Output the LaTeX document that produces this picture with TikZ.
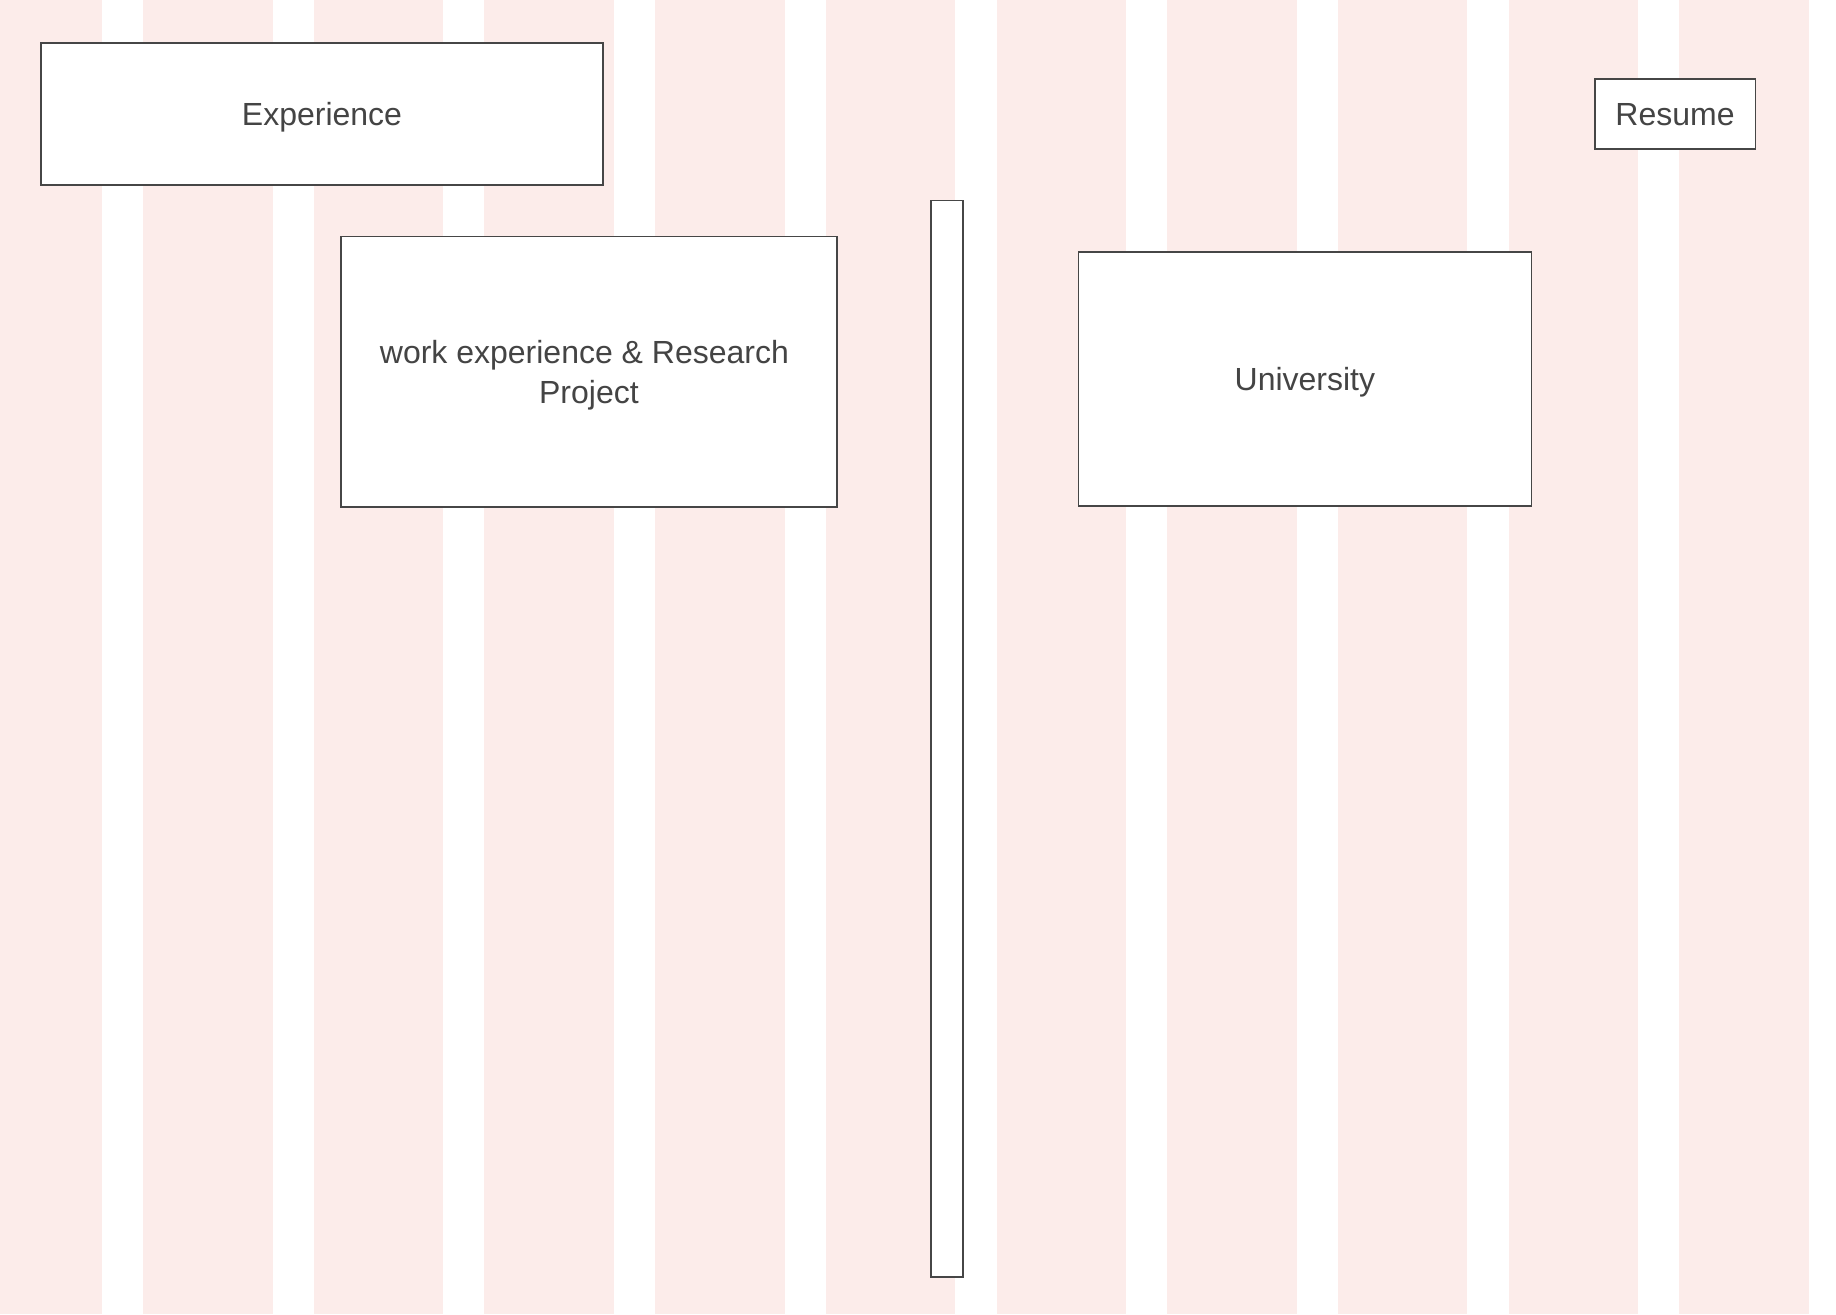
\documentclass[tikz,border=0pt]{standalone}
\usepackage{fontspec}
\setmainfont{Liberation Sans}
\definecolor{stripepink}{RGB}{252,236,234}
\definecolor{boxline}{RGB}{70,70,70}
\definecolor{boxtext}{RGB}{68,68,68}
\begin{document}
\begin{tikzpicture}[x=0.5pt,y=-0.5pt,
    card/.style={draw=boxline,fill=white,line width=0.8pt,inner sep=0pt,outer sep=0pt,
      text=boxtext,align=center,text height=15.2pt,text depth=3.4pt,
      font=\fontsize{16}{19.9}\selectfont}]
        \fill [white] (0,0) rectangle (1836,1314);
        \useasboundingbox (0,0) rectangle (1836,1314);
        \foreach \k in {0,...,10}
            \fill [stripepink] ({-27.7+170.7*\k},0) rectangle ++(129.5,1314);
        \node [card,minimum width=281pt,minimum height=71pt] (experience) at (322,114) {Experience};
        \node [card,minimum width=80.3pt,minimum height=35pt] (resume) at (1675,114) {Resume};
        \node [card,minimum width=248.15pt,minimum height=135.1pt,text height=35.2pt] (work) at (588.9,371.7) {work experience \& Research\ \mbox{}\\Project};
        \node [card,minimum width=15.85pt,minimum height=538.25pt] (timeline) at (946.85,738.75) {};
        \node [card,minimum width=226.4pt,minimum height=127.1pt] (university) at (1304.9,378.9) {University};
    \end{tikzpicture}
\end{document}
